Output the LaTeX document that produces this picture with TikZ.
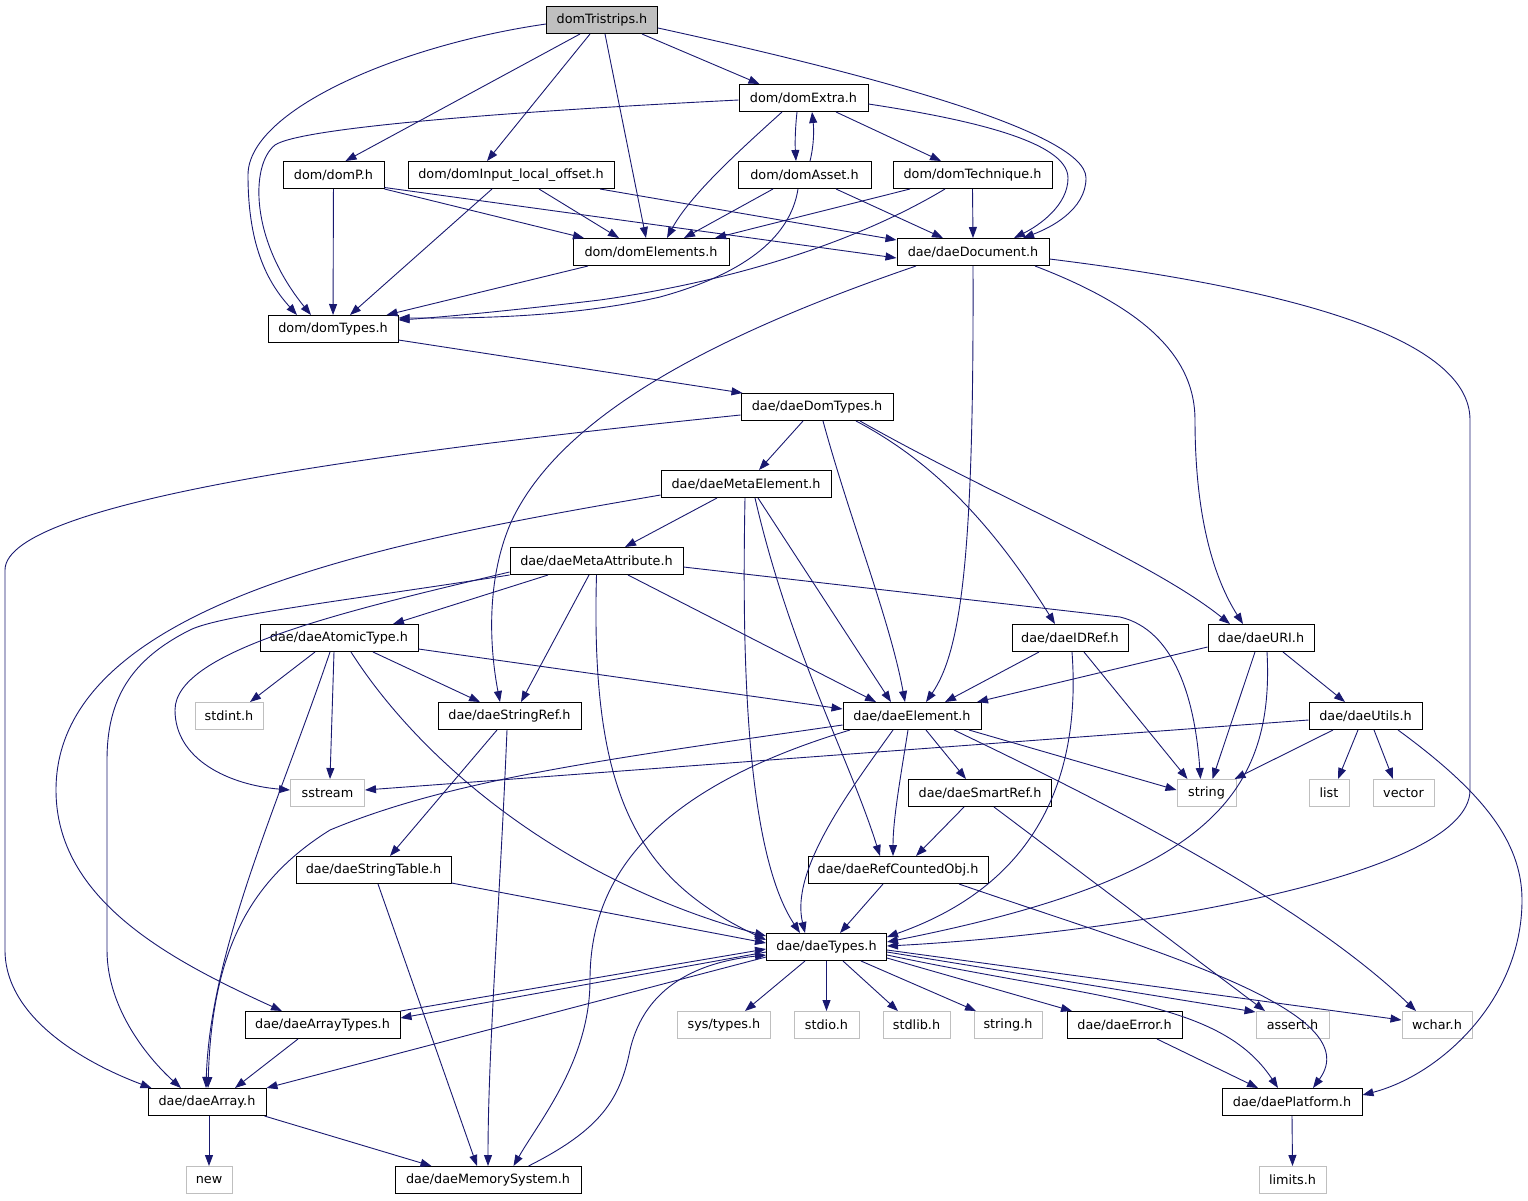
\documentclass[tikz,border=0pt]{standalone}
\usepackage{fontspec}
\setmainfont{DejaVu Sans}
\usetikzlibrary{arrows.meta}

\definecolor{edgeblue}{RGB}{25,25,112}
\definecolor{boxgray}{RGB}{191,191,191}

\tikzset{
	file/.style={rectangle, draw=black, line width=1pt, fill=white, minimum height=27pt, inner sep=0pt, font=\fontsize{12.8}{14}\selectfont},
	sysfile/.style={file, draw=boxgray},
	mainfile/.style={file, fill=boxgray},
	edge/.style={draw=edgeblue, line width=0.9pt, -{Triangle[length=11pt, width=8pt]}, fill=none}
}

\begin{document}
\begin{tikzpicture}[x=1pt, y=-1pt]
		
		\useasboundingbox (0,0) rectangle (1528,1200);
		
		% Node
		
		\node[mainfile, minimum width = 111pt]
		(domTristrips) at (602,20) {domTristrips.h};
		
		\node[file, minimum width = 129pt]
		(domExtra) at (803.5,98) {dom/domExtra.h};
		
		\node[file, minimum width = 101pt]
		(domP) at (333.5,175) {dom/domP.h};
		\node[file, minimum width = 206pt]
		(domInputLocalOffset) at (511,175) {dom/domInput\_local\_offset.h};
		\node[file, minimum width = 133pt]
		(domAsset) at (804.5,175) {dom/domAsset.h};
		\node[file, minimum width = 159pt]
		(domTechnique) at (972.5,175) {dom/domTechnique.h};
		
		\node[file, minimum width = 156pt]
		(domElements) at (651,252) {dom/domElements.h};
		\node[file, minimum width = 152pt]
		(daeDocument) at (973,252) {dae/daeDocument.h};
		
		\node[file, minimum width = 130pt]
		(domTypes) at (333,329) {dom/domTypes.h};
		\node[file, minimum width = 152pt]
		(daeDomTypes) at (817,407) {dae/daeDomTypes.h};
		\node[file, minimum width = 170pt]
		(daeMetaElement) at (746,484) {dae/daeMetaElement.h};
		\node[file, minimum width = 173pt]
		(daeMetaAttribute) at (596.5,561) {dae/daeMetaAttribute.h};
		
		\node[file, minimum width = 158pt]
		(daeAtomicType) at (339,638) {dae/daeAtomicType.h};
		\node[file, minimum width = 116pt]
		(daeIDRef) at (1070,638) {dae/daeIDRef.h};
		\node[file, minimum width = 106pt]
		(daeURI) at (1261,638) {dae/daeURI.h};
		
		\node[sysfile, minimum width = 68pt]
		(stdint) at (229,716) {stdint.h};
		\node[file, minimum width = 143pt]
		(daeStringRef) at (509.5,716) {dae/daeStringRef.h};
		\node[file, minimum width = 138pt]
		(daeElement) at (912,716) {dae/daeElement.h};
		\node[file, minimum width = 113pt]
		(daeUtils) at (1365.5,716) {dae/daeUtils.h};
		
		\node[sysfile, minimum width = 74pt]
		(sstream) at (327.5,793) {sstream};
		\node[file, minimum width = 143pt]
		(daeSmartRef) at (980,793) {dae/daeSmartRef.h};
		\node[sysfile, minimum width = 59pt]
		(string) at (1206.5,793) {string};
		\node[sysfile, minimum width = 40pt]
		(list) at (1329,793) {list};
		\node[sysfile, minimum width = 61pt]
		(vector) at (1403.5,793) {vector};
		
		\node[file, minimum width = 155pt]
		(daeStringTable) at (373.5,870) {dae/daeStringTable.h};
		\node[file, minimum width = 180pt]
		(daeRefCountedObj) at (898,870) {dae/daeRefCountedObj.h};
		
		\node[file, minimum width = 120pt]
		(daeTypes) at (826.5,947) {dae/daeTypes.h};
		
		\node[file, minimum width = 155pt]
		(daeArrayTypes) at (322.5,1025) {dae/daeArrayTypes.h};
		\node[sysfile, minimum width = 93pt]
		(sysTypes) at (724,1025) {sys/types.h};
		\node[sysfile, minimum width = 65pt]
		(stdio) at (826.5,1025) {stdio.h};
		\node[sysfile, minimum width = 67pt]
		(stdlib) at (916.5,1025) {stdlib.h};
		\node[sysfile, minimum width = 68pt]
		(stringH) at (1008,1025) {string.h};
		\node[file, minimum width = 115pt]
		(daeError) at (1124.5,1025) {dae/daeError.h};
		\node[sysfile, minimum width = 73pt]
		(assert) at (1292.5,1025) {assert.h};
		\node[sysfile, minimum width = 70pt]
		(wchar) at (1437,1025) {wchar.h};
		
		\node[file, minimum width = 118pt]
		(daeArray) at (207,1102) {dae/daeArray.h};
		\node[file, minimum width = 140pt]
		(daePlatform) at (1292,1102) {dae/daePlatform.h};
		
		\node[sysfile, minimum width = 46pt]
		(new) at (209,1180) {new};
		\node[file, minimum width = 186pt]
		(daeMemorySystem) at (488,1180) {dae/daeMemorySystem.h};
		\node[sysfile, minimum width = 67pt]
		(limits) at (1292.5,1180) {limits.h};
		
		% EDGE
		
		\draw[edge] ([yshift=-4pt]domTristrips.west) .. controls (400,45) and (248,110) .. (248,175) .. controls (248,250) and (270,285) .. ([xshift=-36pt]domTypes.north);
		\draw[edge] ([xshift=-22pt]domTristrips.south) -- ([xshift=12pt]domP.north);
		\draw[edge] ([xshift=-12pt]domTristrips.south) -- ([xshift=-24pt]domInputLocalOffset.north);
		\draw[edge] ([xshift=3pt]domTristrips.south) -- ([xshift=-5pt]domElements.north);
		\draw[edge] ([xshift=40pt]domTristrips.south) -- ([xshift=-44pt]domExtra.north);
		\draw[edge] ([yshift=-8pt]domTristrips.east) .. controls (850,70) and (1086,130) .. (1086,178) .. controls (1086,210) and (1050,228) .. ([xshift=50pt]daeDocument.north);
		
		\draw[edge] ([yshift=-2pt]domExtra.west) .. controls (500,112) and (300,128) .. (275,145) .. controls (250,165) and (250,240) .. ([xshift=-22pt]domTypes.north);
		\draw[edge] ([xshift=-21.5pt]domExtra.south) .. controls (740,150) and (690,195) .. ([xshift=16pt]domElements.north);
		\draw[edge] ([xshift=-6.5pt]domExtra.south) .. controls (795,130) and (795,145) .. ([xshift=-8.5pt]domAsset.north);
		\draw[edge] ([xshift=32.5pt]domExtra.south) -- ([xshift=-31.5pt]domTechnique.north);
		\draw[edge] ([yshift=-6pt]domExtra.east) .. controls (960,118) and (1068,140) .. (1068,178) .. controls (1068,205) and (1040,225) .. ([xshift=41pt]daeDocument.north);
		
		\draw[edge] ([xshift=5.5pt]domAsset.north) .. controls (814,145) and (814,130) .. ([xshift=8.5pt]domExtra.south);
		\draw[edge] ([xshift=-31.5pt]domAsset.south) -- ([xshift=33pt]domElements.north);
		\draw[edge] ([xshift=31.5pt]domAsset.south) -- ([xshift=-30pt]daeDocument.north);
		\draw[edge] ([xshift=-6.5pt]domAsset.south) .. controls (790,240) and (740,275) .. (660,297) .. controls (560,320) and (450,318) .. ([yshift=-3pt]domTypes.north east);
		
		\draw[edge] ([xshift=-62.5pt]domTechnique.south) -- ([xshift=64pt]domElements.north);
		\draw[edge] (domTechnique.south) -- (daeDocument.north);
		\draw[edge] ([xshift=-27.5pt]domTechnique.south) .. controls (860,240) and (740,280) .. (600,300) .. controls (500,312) and (430,318) .. ([yshift=-5pt]domTypes.north east);
		
		\draw[edge] (domP) -- (domTypes);
		\draw[edge] (domP.south east) -- ([xshift=-67pt]domElements.north);
		\draw[edge] ([yshift=1.5pt]domP.south east) -- ([yshift=-6pt]daeDocument.west);
		
		\draw[edge] ([xshift=-19pt]domInputLocalOffset.south) -- ([xshift=17pt]domTypes.north);
		\draw[edge] ([xshift=28pt]domInputLocalOffset.south) -- ([xshift=-32pt]domElements.north);
		\draw[edge] ([xshift=89pt]domInputLocalOffset.south) -- ([yshift=-2pt]daeDocument.north west);
		
		\draw[edge] ([xshift=-63pt]domElements.south) -- ([xshift=-12pt]domTypes.north east);
		
		\draw[edge] ([yshift=-11pt]domTypes.east) -- ([xshift=2pt]daeDomTypes.north west);
		
		\draw[edge] ([xshift=-57pt]daeDocument.south) .. controls (700,340) and (560,420) .. (512,520) .. controls (485,580) and (490,650) .. ([xshift=-9.5pt]daeStringRef.north);
		\draw[edge] (daeDocument.south) .. controls (974,550) and (962,650) .. ([xshift=14pt]daeElement.north);
		\draw[edge] ([xshift=62pt]daeDocument.south) .. controls (1150,310) and (1195,360) .. (1195,420) .. controls (1195,520) and (1215,580) .. ([xshift=-18pt]daeURI.north);
		\draw[edge] ([yshift=-7pt]daeDocument.east) .. controls (1300,290) and (1470,340) .. (1470,420) -- (1470,790) .. controls (1470,880) and (1100,935) .. ([yshift=1pt]daeTypes.east);
		
		\draw[edge] ([yshift=-8pt]daeDomTypes.west) .. controls (400,450) and (5,500) .. (5,570) -- (5,950) .. controls (5,1020) and (90,1065) .. ([xshift=4pt]daeArray.north west);
		\draw[edge] ([xshift=-14pt]daeDomTypes.south) -- ([xshift=13pt]daeMetaElement.north);
		\draw[edge] ([xshift=6pt]daeDomTypes.south) .. controls (850,520) and (890,620) .. ([xshift=-7pt]daeElement.north);
		\draw[edge] ([xshift=39pt]daeDomTypes.south) .. controls (930,460) and (990,520) .. ([xshift=-15pt]daeIDRef.north);
		\draw[edge] ([xshift=43pt]daeDomTypes.south) .. controls (1000,500) and (1150,560) .. ([xshift=-31pt]daeURI.north);
		
		\draw[edge] ([yshift=-11pt]daeMetaElement.west) .. controls (400,540) and (56,600) .. (56,790) .. controls (56,900) and (170,960) .. ([xshift=-40.5pt]daeArrayTypes.north);
		\draw[edge] ([xshift=-29pt]daeMetaElement.south) -- ([xshift=28.5pt]daeMetaAttribute.north);
		\draw[edge] ([xshift=-1pt]daeMetaElement.south) .. controls (742,650) and (745,850) .. ([xshift=-26.5pt]daeTypes.north);
		\draw[edge] ([xshift=9pt]daeMetaElement.south) .. controls (790,650) and (850,760) .. ([xshift=-18pt]daeRefCountedObj.north);
		\draw[edge] ([xshift=12pt]daeMetaElement.south) -- ([xshift=-21pt]daeElement.north);
		
		\draw[edge] ([yshift=-11pt]daeMetaAttribute.west) .. controls (350,610) and (175,650) .. (175,710) .. controls (175,760) and (230,785) .. ([yshift=3pt]sstream.west);
		\draw[edge] (daeMetaAttribute.south west) .. controls (350,600) and (220,615) .. (190,630) .. controls (130,660) and (107,700) .. (107,760) -- (107,950) .. controls (107,1010) and (150,1060) .. ([xshift=-26pt]daeArray.north);
		\draw[edge] ([xshift=-48.5pt]daeMetaAttribute.south) -- ([xshift=54pt]daeAtomicType.north);
		\draw[edge] ([xshift=-7.5pt]daeMetaAttribute.south) -- ([xshift=11.5pt]daeStringRef.north);
		\draw[edge] (daeMetaAttribute.south) .. controls (590,800) and (640,880) .. ([yshift=7pt]daeTypes.west);
		\draw[edge] ([xshift=31.5pt]daeMetaAttribute.south) -- ([xshift=-36pt]daeElement.north);
		\draw[edge] ([yshift=-6pt]daeMetaAttribute.east) -- (1120,617) .. controls (1175,630) and (1195,700) .. ([xshift=-6pt]string.north);
		
		\draw[edge] ([xshift=-24pt]daeAtomicType.south) -- ([xshift=21pt]stdint.north);
		\draw[edge] ([xshift=-5pt]daeAtomicType.south) -- ([xshift=2.5pt]sstream.north);
		\draw[edge] ([xshift=-9pt]daeAtomicType.south) .. controls (280,800) and (210,950) .. ([xshift=-1pt]daeArray.north);
		\draw[edge] ([xshift=12pt]daeAtomicType.south) .. controls (420,760) and (560,880) .. ([yshift=-3pt]daeTypes.north west);
		\draw[edge] ([xshift=34pt]daeAtomicType.south) -- ([xshift=-29.5pt]daeStringRef.north);
		\draw[edge] ([yshift=-11pt]daeAtomicType.east) -- ([yshift=7pt]daeElement.west);
		
		\draw[edge] ([xshift=-31pt]daeIDRef.south) -- ([xshift=33pt]daeElement.north);
		\draw[edge] ([xshift=14pt]daeIDRef.south) -- ([xshift=-19pt]string.north);
		\draw[edge] ([xshift=2pt]daeIDRef.south) .. controls (1080,760) and (1050,880) .. ([yshift=10pt]daeTypes.east);
		
		\draw[edge] ([yshift=-9pt]daeURI.west) -- ([xshift=65pt]daeElement.north);
		\draw[edge] ([xshift=-6pt]daeURI.south) -- ([xshift=6pt]string.north);
		\draw[edge] ([xshift=22pt]daeURI.south) -- ([xshift=-20.5pt]daeUtils.north);
		\draw[edge] ([xshift=6pt]daeURI.south) .. controls (1275,800) and (1200,880) .. ([yshift=5pt]daeTypes.east);
		
		\draw[edge] ([yshift=-4pt]daeUtils.west) -- ([yshift=3pt]sstream.east);
		\draw[edge] ([xshift=-32.5pt]daeUtils.south) -- ([xshift=-2pt]string.north east);
		\draw[edge] ([xshift=-7.5pt]daeUtils.south) -- ([xshift=9pt]list.north);
		\draw[edge] ([xshift=8.5pt]daeUtils.south) -- ([xshift=-10.5pt]vector.north);
		\draw[edge] ([xshift=32.5pt]daeUtils.south) .. controls (1480,790) and (1522,840) .. (1522,900) .. controls (1522,1000) and (1440,1075) .. ([yshift=7pt]daePlatform.east);
		
		\draw[edge] ([xshift=-12.5pt]daeStringRef.south) -- ([xshift=16.5pt]daeStringTable.north);
		\draw[edge] ([xshift=-2.5pt]daeStringRef.south) .. controls (500,900) and (488,1050) .. (daeMemorySystem.north);
		
		\draw[edge] ([yshift=-9pt]daeElement.west) .. controls (600,760) and (450,780) .. (330,830) .. controls (250,880) and (212,950) .. ([xshift=1pt]daeArray.north);
		\draw[edge] ([xshift=-62pt]daeElement.south) .. controls (650,790) and (590,880) .. (590,980) .. controls (590,1060) and (540,1120) .. ([xshift=25.5pt]daeMemorySystem.north);
		\draw[edge] ([xshift=-19pt]daeElement.south) .. controls (850,790) and (790,870) .. ([xshift=-21.5pt]daeTypes.north);
		\draw[edge] ([xshift=-4pt]daeElement.south) .. controls (900,780) and (893,820) .. ([xshift=-5pt]daeRefCountedObj.north);
		\draw[edge] ([xshift=14pt]daeElement.south) -- ([xshift=-14pt]daeSmartRef.north);
		\draw[edge] ([xshift=57pt]daeElement.south) -- ([yshift=3pt]string.west);
		\draw[edge] ([xshift=42pt]daeElement.south) .. controls (1100,800) and (1300,900) .. ([xshift=-21pt]wchar.north);
		
		\draw[edge] ([xshift=-16pt]daeSmartRef.south) -- ([xshift=18pt]daeRefCountedObj.north);
		\draw[edge] ([xshift=14pt]daeSmartRef.south) -- ([xshift=-27.5pt]assert.north);
		
		\draw[edge] ([yshift=1pt]daeStringTable.south east) -- ([yshift=4pt]daeTypes.west);
		\draw[edge] ([xshift=4.5pt]daeStringTable.south) -- ([xshift=-11pt]daeMemorySystem.north);
		
		\draw[edge] ([xshift=-15pt]daeRefCountedObj.south) -- ([xshift=13.5pt]daeTypes.north);
		\draw[edge] ([xshift=61pt]daeRefCountedObj.south) .. controls (1150,950) and (1370,1010) .. ([xshift=21pt]daePlatform.north);
		
		\draw[edge] ([yshift=-5pt]daeTypes.west) -- ([yshift=7pt]daeArrayTypes.east);
		\draw[edge] ([yshift=-10pt]daeTypes.west) -- (daeArray.north east);
		\draw[edge] ([xshift=-21.5pt]daeTypes.south) -- ([xshift=21pt]sysTypes.north);
		\draw[edge] (daeTypes.south) -- (stdio.north);
		\draw[edge] ([xshift=16.5pt]daeTypes.south) -- ([xshift=-18.5pt]stdlib.north);
		\draw[edge] ([xshift=34.5pt]daeTypes.south) -- ([xshift=-32pt]stringH.north);
		\draw[edge] ([yshift=-11pt]daeTypes.east) -- ([xshift=-52.5pt]daeError.north);
		\draw[edge] ([yshift=-5pt]daeTypes.east) -- ([yshift=-1pt]assert.north west);
		\draw[edge] ([yshift=-3pt]daeTypes.east) -- ([yshift=5pt]wchar.west);
		\draw[edge] ([yshift=-8pt]daeTypes.east) .. controls (1100,1000) and (1220,1000) .. ([xshift=-14pt]daePlatform.north);
		
		\draw[edge] (daeArrayTypes.north east) -- ([yshift=-2pt]daeTypes.west);
		\draw[edge] ([xshift=-24.5pt]daeArrayTypes.south) -- ([xshift=28pt]daeArray.north);
		
		\draw[edge] ([xshift=40.5pt]daeMemorySystem.north) .. controls (600,1130) and (620,1100) .. (630,1050) .. controls (645,985) and (700,962) .. ([yshift=-8pt]daeTypes.west);
		
		\draw[edge] ([xshift=2pt]daeArray.south) -- (new.north);
		\draw[edge] ([xshift=-2pt]daeArray.south east) -- ([xshift=-56.5pt]daeMemorySystem.north);
		
		\draw[edge] ([xshift=32.5pt]daeError.south) -- ([xshift=-34pt]daePlatform.north);
		\draw[edge] (daePlatform.south) -- (limits.north);
		
	\end{tikzpicture}
\end{document}
